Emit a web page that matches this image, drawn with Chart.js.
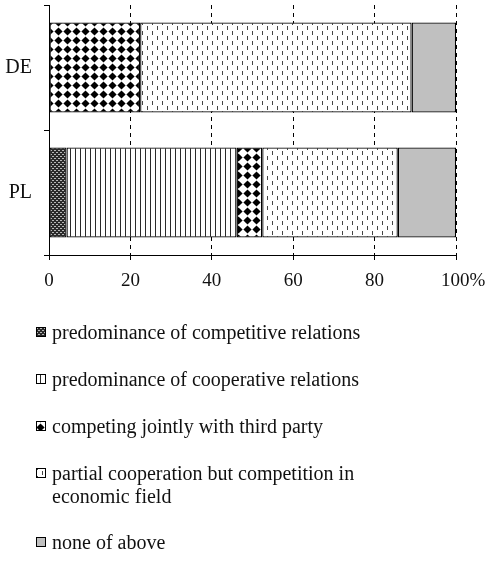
<!DOCTYPE html>
<html>
<head>
<meta charset="utf-8">
<script src="https://cdn.jsdelivr.net/npm/chart.js@4.4.1/dist/chart.umd.min.js"></script>
<style>
  html, body { margin: 0; padding: 0; background: #fff; }
</style>
</head>
<body>
<canvas id="chart" width="490" height="564"></canvas>
<script>
// Data (% of answers)
const countries = ['DE', 'PL'];
const seriesNames = [
    'predominance of competitive relations',
    'predominance of cooperative relations',
    'competing jointly with third party',
    'partial cooperation but competition in economic field',
    'none of above'
];
const competitive = [0, 4.3];
const cooperative = [0, 41.8];
const jointly = [22.4, 6.3];
const partial = [66.7, 33.3];
const noneOfAbove = [10.9, 14.3];
// leading nbsp keeps "100" centred on its tick, "%" hangs to the right
const xTickLabels = ['0', '20', '40', '60', '80', '\u00a0\u00a0\u00a0100%'];

const FONT = '"Liberation Serif", "Times New Roman", serif';

// Fill patterns (small tiles repeated)
function makePattern(w, h, draw) {
    const c = document.createElement('canvas');
    c.width = w; c.height = h;
    const g = c.getContext('2d');
    g.fillStyle = '#fff';
    g.fillRect(0, 0, w, h);
    draw(g);
    return c.getContext('2d').createPattern(c, 'repeat');
}

const patCompetitive = makePattern(4, 4, g => {
    g.fillStyle = '#2a2a2a';
    g.fillRect(0, 0, 4, 4);
    g.fillStyle = '#b8b8b8';
    g.fillRect(0, 0, 2, 1);
    g.fillRect(2, 2, 2, 1);
});
const patCooperative = makePattern(5, 5, g => {
    g.fillStyle = '#2a2a2a';
    g.fillRect(0, 0, 1, 5);
});
const patJointly = makePattern(9, 9, g => {
    g.fillStyle = '#000';
    g.beginPath();
    g.moveTo(4.5, 0.4);
    g.lineTo(8.6, 4.5);
    g.lineTo(4.5, 8.6);
    g.lineTo(0.4, 4.5);
    g.closePath();
    g.fill();
});
const patPartial = makePattern(10, 10, g => {
    g.fillStyle = '#444';
    g.fillRect(2, 1, 1, 4);
    g.fillRect(7, 6, 1, 4);
});
const fillNone = '#c0c0c0';

const fills = [patCompetitive, patCooperative, patJointly, patPartial, fillNone];
const values = [competitive, cooperative, jointly, partial, noneOfAbove];

const datasets = seriesNames.map((name, i) => ({
    label: name,
    data: values[i],
    backgroundColor: fills[i],
    borderColor: '#000',
    borderWidth: 1.3,
    borderSkipped: false,
    barPercentage: 0.72,
    categoryPercentage: 1.0
}));

// Legend drawn under the plot, one entry per line
const legendTops = [327, 374, 421, 468, 537];
const legendPlugin = {
    id: 'stackLegend',
    afterDraw(chart) {
        const ctx = chart.ctx;
        ctx.save();
        ctx.font = '20px ' + FONT;
        ctx.textBaseline = 'alphabetic';
        ctx.textAlign = 'left';
        seriesNames.forEach((name, i) => {
            const top = legendTops[i];
            ctx.fillStyle = fills[i];
            ctx.fillRect(36, top, 10, 10);
            ctx.strokeStyle = '#000';
            ctx.lineWidth = 1;
            ctx.strokeRect(36.5, top + 0.5, 9, 9);

            // simple word wrap
            const words = name.split(' ');
            const lines = [];
            let line = '';
            words.forEach(w => {
                const test = line ? line + ' ' + w : w;
                if (ctx.measureText(test).width > 335 && line) {
                    lines.push(line);
                    line = w;
                } else {
                    line = test;
                }
            });
            lines.push(line);
            ctx.fillStyle = '#111';
            lines.forEach((l, k) => ctx.fillText(l, 52, top + 12 + k * 23));
        });
        ctx.restore();
    }
};

new Chart(document.getElementById('chart'), {
    type: 'bar',
    data: { labels: countries, datasets: datasets },
    options: {
        indexAxis: 'y',
        responsive: false,
        animation: false,
        layout: { padding: { top: 5, right: 34, bottom: 269, left: 0 } },
        plugins: {
            legend: { display: false },
            tooltip: { enabled: false }
        },
        scales: {
            x: {
                stacked: true,
                min: 0,
                max: 100,
                ticks: {
                    stepSize: 20,
                    color: '#111',
                    padding: 10,
                    font: { family: FONT, size: 19 },
                    maxRotation: 0,
                    callback: (v, i) => xTickLabels[i]
                },
                grid: {
                    color: '#000',
                    lineWidth: 1,
                    tickLength: 5,
                    tickColor: '#000'
                },
                border: { display: true, color: '#000', width: 1, dash: [4, 4] },
                afterFit: s => { s.height = 40; s.paddingLeft = 0; s.paddingRight = 0; }
            },
            y: {
                stacked: true,
                ticks: {
                    color: '#111',
                    padding: 12,
                    font: { family: FONT, size: 20 }
                },
                grid: {
                    drawOnChartArea: false,
                    offset: true,
                    tickLength: 5,
                    color: '#000'
                },
                border: { display: true, color: '#000', width: 1 },
                afterFit: s => { s.width = 49; s.paddingTop = 0; s.paddingBottom = 0; }
            }
        }
    },
    plugins: [legendPlugin]
});
</script>
</body>
</html>
